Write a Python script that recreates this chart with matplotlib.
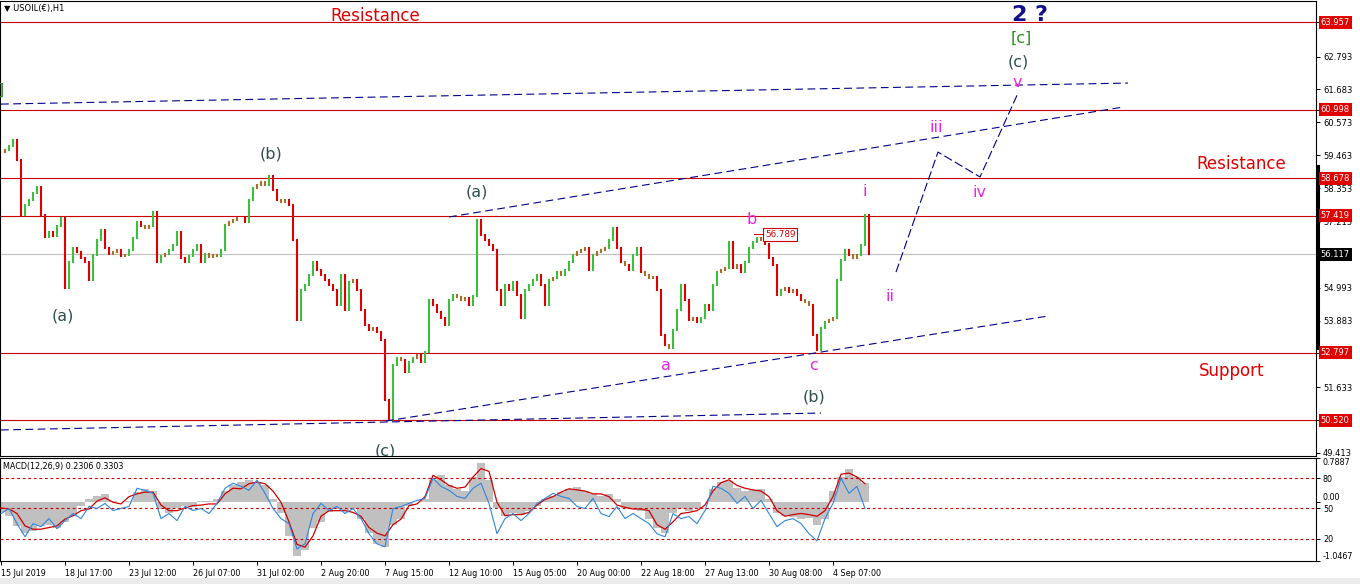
import numpy as np
import matplotlib
matplotlib.use('Agg')
import matplotlib.pyplot as plt
import matplotlib.transforms as mtransforms
from matplotlib.patches import Rectangle

plt.rcParams['font.family'] = ['DejaVu Sans']

# USOIL H1 closes, one value every 4 hourly bars
bar_step = 4
closes = [
    59.57, 59.64, 59.77, 59.97, 59.30, 57.44, 57.78, 57.95, 58.19, 58.39,
    57.44, 56.70, 56.87, 56.73, 57.07, 57.34, 54.98, 55.86, 56.33, 56.19,
    55.99, 55.86, 55.25, 56.09, 56.60, 56.94, 56.33, 56.13, 56.19, 56.26,
    56.06, 56.09, 56.26, 56.67, 57.21, 57.07, 57.00, 57.07, 57.54, 55.86,
    56.06, 56.13, 56.26, 56.43, 56.87, 55.99, 55.86, 56.06, 56.26, 56.43,
    55.86, 56.13, 56.03, 56.09, 56.06, 56.26, 57.11, 57.21, 57.27, 57.34,
    57.34, 57.21, 57.95, 58.35, 58.46, 58.56, 58.46, 58.76, 58.29, 57.95,
    57.88, 57.95, 57.78, 56.60, 53.90, 54.91, 55.08, 55.42, 55.86, 55.59,
    55.42, 55.25, 55.08, 54.91, 54.41, 55.42, 54.24, 55.18, 55.25, 54.91,
    54.24, 53.73, 53.56, 53.63, 53.49, 53.22, 51.20, 50.52, 52.38, 52.62,
    52.55, 52.14, 52.48, 52.62, 52.72, 52.48, 52.82, 54.57, 54.41, 54.17,
    53.97, 53.73, 54.57, 54.74, 54.68, 54.57, 54.64, 54.41, 54.71, 57.27,
    56.77, 56.60, 56.43, 56.26, 54.91, 54.41, 55.08, 54.91, 55.18, 54.74,
    53.97, 54.91, 55.08, 55.25, 55.42, 55.08, 54.41, 55.25, 55.32, 55.52,
    55.42, 55.59, 55.86, 56.09, 56.19, 56.26, 56.33, 55.59, 56.09, 56.19,
    56.26, 56.33, 56.60, 57.00, 56.33, 55.86, 55.76, 55.59, 56.09, 56.33,
    55.52, 55.42, 55.32, 55.35, 54.91, 53.39, 53.06, 52.95, 53.56, 54.24,
    55.08, 54.57, 53.90, 53.97, 53.83, 53.97, 54.41, 54.24, 55.08, 55.52,
    55.59, 55.65, 56.53, 55.65, 55.76, 55.52, 55.86, 56.33, 56.53, 56.67,
    56.60, 56.46, 55.99, 55.76, 54.74, 54.91, 54.98, 54.84, 54.91, 54.74,
    54.57, 54.51, 54.41, 53.39, 52.89, 53.63, 53.83, 53.90, 53.97, 55.25,
    55.92, 56.26, 56.09, 55.99, 56.09, 56.43, 57.44, 56.117,
]

# MACD window, one value every 8 bars
macd_step = 8
macd_main = [
    -0.18, -0.24, -0.42, -0.55, -0.52, -0.42, -0.40, -0.45, -0.36, -0.24,
    -0.06, 0.06, 0.12, 0.15, 0.02, 0.00, 0.02, 0.18, 0.24, 0.20,
    -0.12, -0.20, -0.10, -0.06, -0.08, 0.03, 0.03, 0.05, 0.20, 0.30,
    0.36, 0.40, 0.36, 0.30, 0.05, -0.20, -0.60, -0.95, -0.85, -0.45,
    -0.36, -0.18, -0.12, -0.15, -0.12, -0.30, -0.55, -0.75, -0.80, -0.40,
    -0.30, -0.06, 0.00, 0.06, 0.40, 0.48, 0.30, 0.24, 0.20, 0.45,
    0.70, 0.40, -0.10, -0.24, -0.20, -0.22, -0.15, -0.06, 0.06, 0.12,
    0.18, 0.24, 0.27, 0.20, 0.15, 0.12, 0.15, 0.05, -0.10, -0.12,
    -0.15, -0.30, -0.45, -0.55, -0.20, -0.12, -0.15, -0.10, 0.00, 0.24,
    0.36, 0.38, 0.25, 0.20, 0.22, 0.24, 0.05, -0.20, -0.25, -0.27,
    -0.30, -0.28, -0.40, -0.30, 0.20, 0.45, 0.60, 0.45, 0.35,
]
macd_signal = [
    -0.10, -0.12, -0.20, -0.42, -0.48, -0.48, -0.45, -0.42, -0.30, -0.24,
    -0.15, -0.12, 0.02, 0.08, 0.00, -0.03, 0.10, 0.15, 0.18, 0.18,
    -0.05, -0.15, -0.15, -0.10, -0.06, -0.05, -0.03, -0.03, 0.15, 0.25,
    0.24, 0.33, 0.36, 0.33, 0.20, 0.00, -0.35, -0.75, -0.80, -0.60,
    -0.25, -0.15, -0.15, -0.15, -0.18, -0.25, -0.45, -0.55, -0.60, -0.40,
    -0.30, -0.06, -0.03, 0.10, 0.48, 0.40, 0.30, 0.25, 0.27, 0.45,
    0.60, 0.55, 0.00, -0.24, -0.22, -0.22, -0.18, -0.05, 0.05, 0.10,
    0.18, 0.24, 0.22, 0.20, 0.15, 0.15, 0.10, -0.05, -0.09, -0.12,
    -0.12, -0.15, -0.40, -0.48, -0.35, -0.20, -0.18, -0.15, -0.05, 0.20,
    0.35, 0.40, 0.30, 0.25, 0.22, 0.20, 0.10, -0.15, -0.25, -0.22,
    -0.20, -0.22, -0.25, -0.15, 0.10, 0.50, 0.52, 0.45, 0.33,
]
osc_line = [
    45, 50, 35, 22, 35, 32, 40, 30, 38, 45,
    40, 52, 50, 55, 48, 50, 52, 70, 68, 65,
    40, 45, 38, 52, 48, 50, 45, 55, 70, 75,
    72, 68, 78, 65, 50, 40, 35, 10, 15, 45,
    55, 48, 52, 45, 50, 40, 25, 15, 12, 50,
    52, 55, 58, 60, 80, 72, 68, 62, 60, 70,
    75, 55, 25, 40, 45, 38, 45, 55, 60, 65,
    62, 60, 52, 50, 60, 45, 42, 52, 40, 45,
    40, 35, 25, 22, 45, 40, 42, 35, 48, 72,
    70, 65, 55, 62, 50, 58, 45, 32, 38, 40,
    35, 25, 18, 40, 55, 80, 65, 72, 50,
]
osc_levels = [80, 50, 20]

level_prices = [63.957, 60.998, 58.678, 57.419, 52.797, 50.520]
last_price = 56.117
axis_prices = [62.793, 61.683, 60.573, 59.463, 58.353, 57.213,
               54.993, 53.883, 51.633, 49.413]

date_labels = ['15 Jul 2019', '18 Jul 17:00', '23 Jul 12:00', '26 Jul 07:00',
               '31 Jul 02:00', '2 Aug 20:00', '7 Aug 15:00', '12 Aug 10:00',
               '15 Aug 05:00', '20 Aug 00:00', '22 Aug 18:00', '27 Aug 13:00',
               '30 Aug 08:00', '4 Sep 07:00']
bars_per_label = 64

# hand drawn trend lines (bar index, price)
trend_lines = [
    ([0, 1127], [61.19, 61.90]),
    ([448, 1122], [57.38, 61.09]),
    ([385, 1046], [50.49, 54.03]),
    ([0, 820], [50.19, 50.76]),
]
wave_path_bars = [895, 937, 979, 1017]
wave_path_prices = [55.52, 59.57, 58.73, 61.56]

grey = '#2f4f4f'
pink = '#ee22ee'
wave_labels = [
    ('(a)', 62, 54.04, grey), ('(b)', 270, 59.50, grey), ('(c)', 384, 49.47, grey),
    ('(a)', 476, 58.22, grey), ('a', 665, 52.38, pink), ('b', 751, 57.31, pink),
    ('c', 812, 52.38, pink), ('(b)', 813, 51.30, grey), ('i', 864, 58.25, pink),
    ('ii', 889, 54.71, pink), ('iii', 935, 60.41, pink), ('iv', 979, 58.19, pink),
    ('v', 1016, 61.93, pink), ('(c)', 1017, 62.61, grey), ('[c]', 1020, 63.42, '#2e8b22'),
]
zone_labels = [('Resistance', 374, 64.16), ('Resistance', 1240, 59.16), ('Support', 1231, 52.18)]

b_price = 56.789
b_bar = 753

W, H = 1360, 584
fig = plt.figure(figsize=(W / 100, H / 100), dpi=100)
fig.patches.append(Rectangle((0, 0), 1, 6 / H, transform=fig.transFigure,
                             facecolor='#ececec', edgecolor='none'))
ax = fig.add_axes([0, 1 - 456 / H, 1316 / W, 455 / H])
ax2 = fig.add_axes([0, 1 - 561 / H, 1316 / W, 103 / H])
for a in (ax, ax2):
    a.set_xlim(-1, 1315)
    for s in a.spines.values():
        s.set_linewidth(0.8)
        s.set_color('black')
ax.set_ylim(49.31, 64.67)

# price bars
c = np.array(closes)
prev = np.concatenate([[c[0]], c[:-1]])
xb = np.arange(len(c)) * bar_step
cols = np.where(np.abs(c - prev) < 0.12, '#a86f28', np.where(c >= prev, '#3dbe3d', '#e00000'))
ax.vlines(xb, np.minimum(c, prev), np.maximum(c, prev), colors=cols, lw=1.5,
          capstyle='projecting', zorder=3)

ax.hlines(level_prices, -1, 1315, colors='#cc0000', lw=0.8, zorder=2)
ax.axhline(last_price, color='#c0c0c0', lw=0.8, zorder=1)

for bx, py in trend_lines:
    ax.plot(bx, py, color='#00008b', lw=0.8, dashes=(7, 4), zorder=4)
ax.plot(wave_path_bars, wave_path_prices, color='#00008b', lw=0.8, dashes=(8, 3), zorder=4)

for t, bx, py, col in wave_labels:
    ax.text(bx, py, t, color=col, fontsize=11.5, ha='center', va='center', zorder=5, clip_on=True)
for t, bx, py in zone_labels:
    ax.text(bx, py, t, color='#e00000', fontsize=12, ha='center', va='center', zorder=5)
ax.text(1029, 64.19, '2 ?', color='#10108c', fontsize=16, fontweight='bold',
        ha='center', va='center', zorder=5)
ax.text(3, 61.66, ']', color='#2e8b22', fontsize=11.5, ha='right', va='center', clip_on=True)

ax.plot([b_bar, b_bar + 10], [b_price, b_price], color='#cc0000', lw=0.7, zorder=4)
ax.text(b_bar + 11, b_price, f'{b_price:.3f}', color='#cc0000', fontsize=6.3,
        ha='left', va='center', zorder=6,
        bbox=dict(boxstyle='square,pad=0.2', fc='white', ec='#cc0000', lw=0.8))

# right price scale
ax.yaxis.tick_right()
ax.set_yticks(axis_prices + level_prices + [last_price])
ax.set_yticklabels([f'{p:.3f}' for p in axis_prices] + [''] * (len(level_prices) + 1))
ax.tick_params(axis='y', direction='out', length=3, width=0.7, labelsize=6, pad=2)
ax.tick_params(axis='x', bottom=False, labelbottom=False)
for p in level_prices + [last_price]:
    ax.annotate(f'{p:.3f}', xy=(1, p), xycoords=('axes fraction', 'data'),
                xytext=(3.5, 0), textcoords='offset points', ha='left', va='center',
                fontsize=6, color='white', annotation_clip=False,
                bbox=dict(boxstyle='square,pad=0.25',
                          fc='black' if p == last_price else '#e00000', ec='none'))
tr = mtransforms.blended_transform_factory(ax.transAxes, ax.transData)
ax.plot([1.0015, 1.0015], [59.10, 52.96], color='black', lw=2.2, transform=tr, clip_on=False)

fig.text(4 / W, 1 - 8 / H, '\u25bc USOIL(\u20ac),H1', fontsize=6, va='center')

# MACD window
xm = np.arange(len(macd_main)) * macd_step
ax2.set_ylim(-1.0467, 0.7887)
ax2.bar(xm, macd_main, width=macd_step, color='#c0c0c0', zorder=1)
ax2.plot(xm, macd_signal, color='#d00000', lw=0.9, zorder=3)
ax3 = ax2.twinx()
ax3.set_ylim(-2, 100)
ax3.plot(xm, osc_line, color='#2f86e0', lw=0.8, zorder=3)
ax3.hlines(osc_levels, -1, 1315, colors='#cc0000', lw=0.8, linestyles=(0, (2.5, 2.5)))
ax3.set_yticks(osc_levels)
ax3.set_yticklabels([str(v) for v in osc_levels])
ax3.tick_params(axis='y', direction='out', length=3, width=0.7, labelsize=5.8, pad=2)
for s in ax3.spines.values():
    s.set_visible(False)

ax2.yaxis.tick_right()
ax2.set_yticks([0.7887, 0.0, -1.0467])
ax2.set_yticklabels(['0.7887', '0.00', '-1.0467'])
ax2.tick_params(axis='y', direction='out', length=3, width=0.7, labelsize=5.8, pad=2)
yl = ax2.get_yticklabels()
yl[0].set_va('top')
yl[1].set_va('bottom')
yl[2].set_va('bottom')

ax2.set_xticks(np.arange(len(date_labels)) * bars_per_label)
ax2.set_xticklabels(date_labels, ha='left')
ax2.tick_params(axis='x', direction='out', length=3, width=0.7, labelsize=5.8, pad=3)
fig.text(3 / W, 1 - 466 / H, 'MACD(12,26,9) 0.2306 0.3303', fontsize=5.8, va='center')

fig.savefig('out.png', dpi=100, facecolor='white')
